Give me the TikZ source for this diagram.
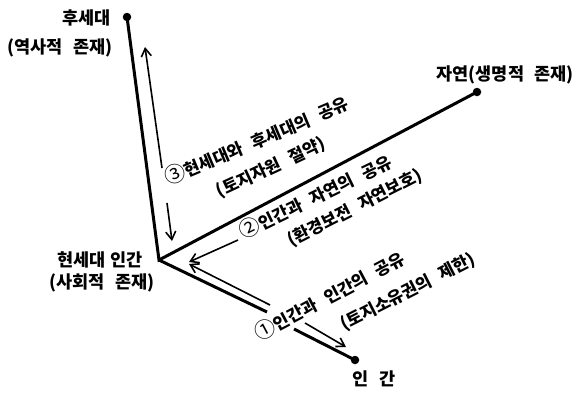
\documentclass[tikz,border=0pt]{standalone}
\usepackage{fontspec}
\newfontfamily\kr{Noto Sans CJK KR}
\usetikzlibrary{arrows.meta}
\newcommand\gp{\hspace{0.6em}}
\newcommand\cn[1]{{\mdseries\fontsize{21}{19}\selectfont #1}}
\begin{document}
\begin{tikzpicture}[x=1pt,y=-1pt,
  axis/.style={line width=3pt},
  dotn/.style={circle,fill,inner sep=0pt,minimum size=8.5pt},
  arr/.style={line width=1.6pt,-{Straight Barb[length=8pt,width=10pt]}},
  lab/.style={font=\kr\bfseries\fontsize{17.5}{20}\selectfont,inner sep=1pt},
  rot/.style={font=\kr\bfseries\fontsize{17}{19}\selectfont,inner sep=1pt}]
\useasboundingbox (0,0) rectangle (575,392);
% points
\coordinate (O) at (159,260);
\node[dotn] (F) at (127,17) {};
\node[dotn] (N) at (477,92) {};
\node[dotn] (H) at (355,360) {};
\coordinate (h1) at (267,312);
\coordinate (h2) at (294,329);
% axes
\draw[axis,line join=miter] (F.center) -- (O) -- (N.center);
\draw[axis] (O) -- (h1);
\draw[axis] (h2) -- (H.center);
% arrow 3
\coordinate (a3a) at (145,47);
\coordinate (a3b) at (162,168);
\coordinate (a3c) at (167,203);
\coordinate (a3d) at (172,241);
\draw[arr] (a3b) -- (a3a);
\draw[arr] (a3c) -- (a3d);
% arrow 2
\coordinate (a2a) at (238,240);
\coordinate (a2b) at (189,262);
\draw[arr] (a2a) -- (a2b);
% arrow 1
\coordinate (a1a) at (270,305);
\coordinate (a1b) at (189,264);
\coordinate (a1c) at (305,323);
\coordinate (a1d) at (346,347);
\draw[arr] (a1a) -- (a1b);
\draw[arr] (a1c) -- (a1d);
% labels
\node[lab,anchor=east] (lf1) at (112,18) {후세대};
\node[lab] (lf2) at (60,48) {(역사적\gp 존재)};
\node[lab,anchor=east] (ln) at (575,75) {자연(생명적\gp 존재)};
\node[lab] (lo1) at (100,260) {현세대 인간};
\node[lab] (lo2) at (102,283) {(사회적\gp 존재)};
\node[lab] (lh) at (374,379) {인\gp 간};
% rotated texts
\node[rot,rotate=23] (t3a) at (256,140) {\cn{③}현세대와\gp 후세대의\gp 공유};
\node[rot,rotate=25] (t3b) at (271,168) {(토지자원\gp 절약)};
\node[rot,rotate=26] (t2a) at (315,196) {\cn{②}인간과\gp 자연의\gp 공유};
\node[rot,rotate=27] (t2b) at (355,208) {(환경보전\gp 자연보호)};
\node[rot,rotate=28] (t1a) at (329,295) {\cn{①}인간과\gp 인간의\gp 공유};
\node[rot,rotate=27] (t1b) at (408,292) {(토지소유권의\gp 제한)};
\end{tikzpicture}
\end{document}
